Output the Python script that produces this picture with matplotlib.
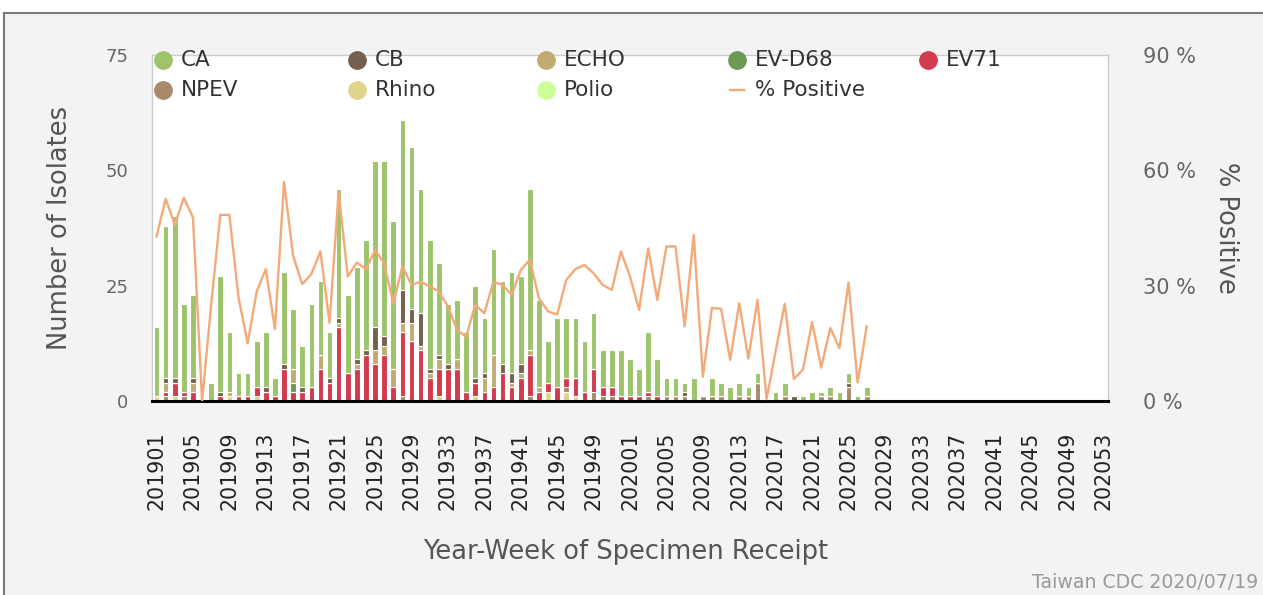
import numpy as np
import matplotlib.pyplot as plt
from matplotlib.lines import Line2D
from matplotlib.patches import Rectangle

W, H = 1263, 595

# x categories: every week of 2019 and 2020
WEEKS = [f"2019{w:02d}" for w in range(1, 53)] + [f"2020{w:02d}" for w in range(1, 54)]

# isolates per week, 201901 .. 202027
CA = [15, 33, 35, 19, 18, 0, 4, 25, 13, 5,
      5, 10, 12, 4, 20, 13, 9, 18, 16, 10,
      28, 17, 20, 24, 36, 38, 32, 37, 35, 27,
      28, 20, 13, 13, 13, 20, 12, 23, 18, 22,
      19, 35, 19, 9, 15, 13, 13, 11, 12, 8,
      8, 10, 8, 6, 13, 8, 4, 4, 2, 5,
      0, 4, 3, 3, 3, 2, 2, 0, 2, 3,
      0, 1, 2, 1, 2, 2, 2, 1, 2]
CB = [0, 1, 1, 0, 1, 0, 0, 1, 0, 0,
      0, 0, 1, 0, 1, 0, 1, 0, 0, 1,
      1, 0, 1, 1, 5, 2, 0, 7, 3, 7,
      1, 1, 1, 0, 0, 1, 1, 0, 2, 2,
      2, 0, 0, 0, 0, 0, 0, 0, 0, 0,
      0, 0, 0, 0, 0, 0, 0, 0, 1, 0,
      0, 0, 0, 0, 0, 0, 0, 0, 0, 0,
      1, 0, 0, 0, 0, 0, 1, 0, 0]
ECHO = [0, 2, 0, 0, 2, 0, 0, 0, 1, 0,
        0, 0, 0, 0, 0, 3, 0, 0, 3, 0,
        1, 0, 1, 0, 3, 2, 4, 2, 4, 1,
        1, 2, 0, 2, 0, 0, 3, 7, 0, 1,
        1, 1, 1, 0, 0, 0, 0, 0, 0, 0,
        0, 0, 0, 0, 0, 0, 0, 0, 0, 0,
        0, 0, 0, 0, 0, 0, 0, 0, 0, 0,
        0, 0, 0, 0, 0, 0, 0, 0, 0]
EV_D68 = [0, 0, 0, 0, 0, 0, 0, 0, 0, 0,
          0, 0, 0, 0, 0, 2, 0, 0, 0, 0,
          0, 0, 0, 0, 0, 0, 0, 0, 0, 0,
          0, 0, 0, 0, 0, 0, 0, 0, 0, 0,
          0, 0, 0, 0, 0, 0, 0, 0, 0, 0,
          0, 0, 0, 0, 0, 0, 0, 0, 0, 0,
          0, 0, 0, 0, 0, 0, 0, 0, 0, 0,
          0, 0, 0, 0, 0, 0, 0, 0, 0]
EV71 = [0, 1, 3, 1, 2, 0, 0, 1, 0, 1,
        1, 2, 2, 1, 7, 2, 2, 3, 7, 4,
        16, 6, 7, 10, 8, 10, 3, 14, 13, 11,
        5, 6, 7, 7, 2, 3, 2, 3, 6, 3,
        5, 9, 2, 2, 3, 2, 4, 2, 5, 2,
        2, 1, 1, 1, 1, 1, 0, 0, 0, 0,
        0, 0, 0, 0, 0, 0, 0, 0, 0, 0,
        0, 0, 0, 0, 0, 0, 0, 0, 0]
NPEV = [0, 1, 0, 1, 0, 0, 0, 0, 0, 0,
        0, 0, 0, 0, 0, 0, 0, 0, 0, 0,
        0, 0, 0, 0, 0, 0, 0, 1, 0, 0,
        0, 0, 0, 0, 0, 0, 0, 0, 0, 0,
        0, 1, 0, 0, 0, 1, 0, 0, 2, 1,
        1, 0, 0, 0, 1, 0, 1, 1, 1, 0,
        1, 1, 1, 0, 1, 1, 4, 0, 0, 1,
        0, 0, 0, 1, 1, 0, 3, 0, 1]
RHINO = [1, 0, 1, 0, 0, 0, 0, 0, 1, 0,
         0, 1, 0, 0, 0, 0, 0, 0, 0, 0,
         0, 0, 0, 0, 0, 0, 0, 0, 0, 0,
         0, 1, 0, 0, 0, 1, 0, 0, 0, 0,
         0, 0, 0, 2, 0, 2, 1, 0, 0, 0,
         0, 0, 0, 0, 0, 0, 0, 0, 0, 0,
         0, 0, 0, 0, 0, 0, 0, 0, 0, 0,
         0, 0, 0, 0, 0, 0, 0, 0, 0]
POLIO = [0, 0, 0, 0, 0, 0, 0, 0, 0, 0,
         0, 0, 0, 0, 0, 0, 0, 0, 0, 0,
         0, 0, 0, 0, 0, 0, 0, 0, 0, 0,
         0, 0, 0, 0, 0, 0, 0, 0, 0, 0,
         0, 0, 0, 0, 0, 0, 0, 0, 0, 0,
         0, 0, 0, 0, 0, 0, 0, 0, 0, 0,
         0, 0, 0, 0, 0, 0, 0, 0, 0, 0,
         0, 0, 0, 0, 0, 0, 0, 0, 0]
PCT_POSITIVE = [42.8, 52.6, 45.8, 52.9, 47.7, 0, 25, 48.4, 48.4, 27,
                15, 28.5, 34.3, 18.7, 57, 37.8, 30.4, 33, 38.9, 20.3,
                54.5, 32.4, 36, 34.3, 39.3, 35.8, 25.4, 35, 30.2, 31,
                29.8, 28.5, 24.6, 18.5, 16.7, 25, 22.8, 31, 30.2, 27.6,
                34.1, 36.7, 26.7, 23.3, 22.5, 31.5, 34.3, 35.4, 33.2, 30.2,
                28.9, 38.9, 32.4, 23.7, 39.7, 26.3, 40.2, 40.2, 19.4, 43.2,
                6.3, 24.2, 24, 10.7, 25.4, 11, 26.3, 0.5, 13, 25.3,
                5.7, 8.2, 20.5, 8.7, 19, 13.7, 30.8, 4.8, 19.4]

NAMES = ["CA", "CB", "ECHO", "EV-D68", "EV71", "NPEV", "Rhino", "Polio"]
COLORS = ["#9dc46a", "#75604e", "#c2ab73", "#6c9955", "#d23a4e",
          "#a8896a", "#e2d38c", "#ccff99"]
LINE_COLOR = "#f3a978"

# stacked from the bottom: last legend entry sits lowest
stack = [POLIO, RHINO, NPEV, EV71, EV_D68, ECHO, CB, CA]
stack_colors = COLORS[::-1]

fig = plt.figure(figsize=(W / 100, H / 100), dpi=100)
fig.patch.set_facecolor("white")
fig.patches.append(Rectangle((4 / W, -0.01), 1.0, 1 - 13 / H + 0.01,
                             transform=fig.transFigure, facecolor="#f3f3f3",
                             edgecolor="#7a7a7a", linewidth=1.5, zorder=-10))

ax = fig.add_axes([152 / W, 1 - 401 / H, (1108 - 152) / W, (401 - 55) / H])
ax.set_facecolor("white")

x = np.arange(len(CA))
bottom = np.zeros(len(CA))
for vals, col in zip(stack, stack_colors):
    v = np.array(vals, dtype=float)
    ax.bar(x, v, bottom=bottom, width=0.62, color=col,
           edgecolor="white", linewidth=0.8)
    bottom += v

ax.set_xlim(-0.5, len(WEEKS) - 0.5)
ax.set_ylim(0, 75)
ax.set_yticks([0, 25, 50, 75])
ax.set_xticks(range(0, len(WEEKS), 4))
ax.set_xticklabels(WEEKS[::4], rotation=90, fontsize=14.8, color="#222222")
ax.tick_params(axis="x", length=0, pad=22)
ax.tick_params(axis="y", length=0, pad=17, labelsize=13, labelcolor="#666666")
for s in ["top", "left", "right"]:
    ax.spines[s].set_color("#cccccc")
    ax.spines[s].set_linewidth(1)
ax.spines["bottom"].set_color("black")
ax.spines["bottom"].set_linewidth(2.2)

ax2 = ax.twinx()
ax2.plot(x, PCT_POSITIVE, color=LINE_COLOR, lw=1.7)
ax2.set_ylim(0, 90)
ax2.set_yticks([0, 30, 60, 90])
ax2.set_yticklabels(["0 %", "30 %", "60 %", "90 %"])
ax2.tick_params(axis="y", length=0, pad=25, labelsize=15, labelcolor="#666666")
for s in ax2.spines.values():
    s.set_visible(False)

fig.text(60 / W, 1 - 228 / H, "Number of Isolates", rotation=90,
         ha="center", va="center", fontsize=18.5, color="#555555")
fig.text(1226 / W, 1 - 228 / H, "% Positive", rotation=270,
         ha="center", va="center", fontsize=18.5, color="#555555")
fig.text(626 / W, 1 - 552 / H, "Year-Week of Specimen Receipt",
         ha="center", va="center", fontsize=18.5, color="#555555")
fig.text(1258 / W, 1 - 583 / H, "Taiwan CDC 2020/07/19",
         ha="right", va="center", fontsize=13.6, color="#999999")

# legend, two rows laid over the top of the plot area
col_x = [163, 357, 546, 737, 928]
row_y = [60, 90]
entries = list(zip(NAMES, COLORS)) + [("% Positive", LINE_COLOR)]
for k, (name, col) in enumerate(entries):
    cx = col_x[k % 5] / W
    cy = 1 - row_y[k // 5] / H
    if name == "% Positive":
        fig.add_artist(Line2D([cx - 7 / W, cx + 7 / W], [cy, cy],
                              transform=fig.transFigure, color=col, lw=1.7))
    else:
        fig.add_artist(Line2D([cx], [cy], transform=fig.transFigure,
                              marker="o", markersize=12.5, color=col, lw=0))
    fig.text(cx + 18 / W, cy, name, ha="left", va="center",
             fontsize=15.5, color="#333333")

fig.savefig("out.png", dpi=100)
